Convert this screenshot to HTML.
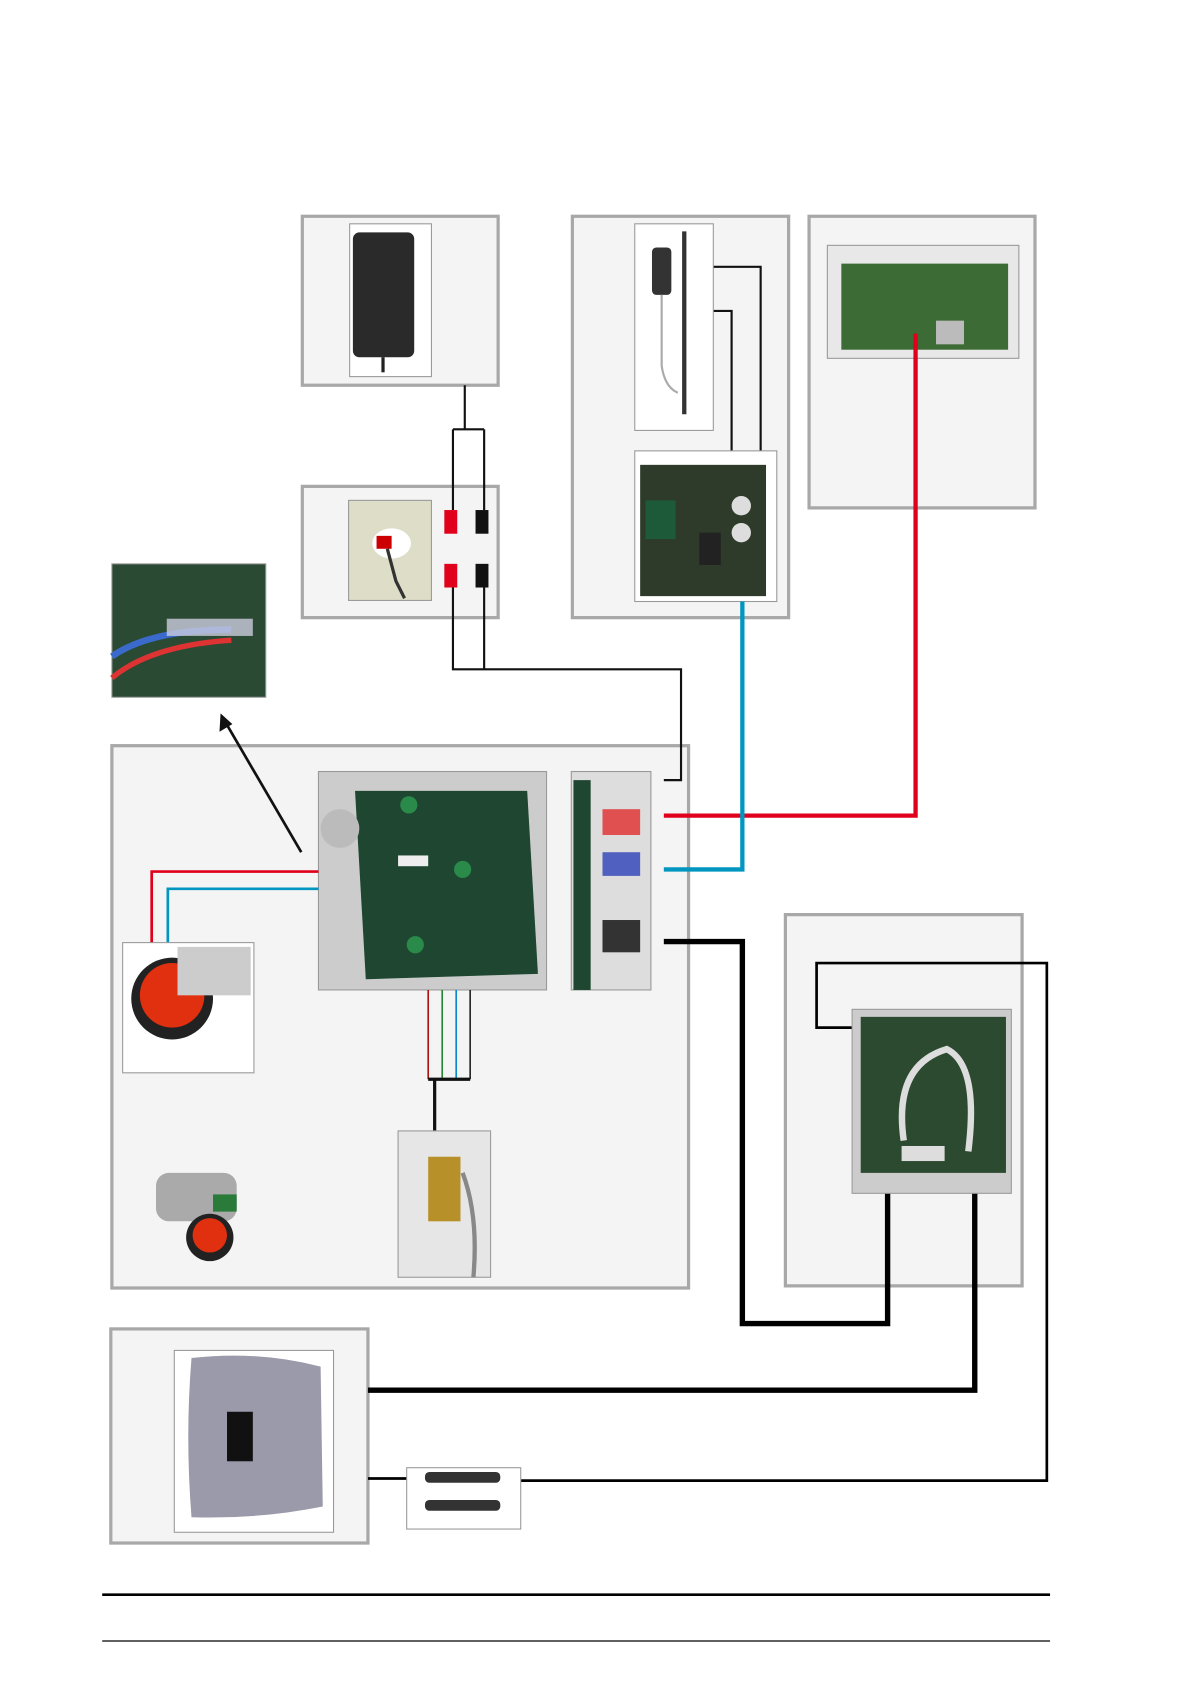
<!DOCTYPE html>
<html><head><meta charset="utf-8"><style>
html,body{margin:0;padding:0;background:#fff;}
svg{display:block;}
</style></head><body>
<svg width="1191" height="1684" viewBox="0 0 1107 1565" preserveAspectRatio="none" xmlns="http://www.w3.org/2000/svg">
<g fill="#f4f4f4" stroke="#a8a8a8" stroke-width="3">
<rect x="281" y="201" width="182" height="157"/>
<rect x="281" y="452" width="182" height="122"/>
<rect x="532" y="201" width="201" height="373"/>
<rect x="752" y="201" width="210" height="271"/>
<rect x="104" y="693" width="536" height="504"/>
<rect x="730" y="850" width="220" height="345"/>
<rect x="103" y="1235" width="239" height="199"/>
</g>
<!-- adapter -->
<rect x="325" y="208" width="76" height="142" fill="#fff" stroke="#999"/>
<rect x="328" y="216" width="57" height="116" rx="6" fill="#2a2a2a"/>
<line x1="356" y1="332" x2="356" y2="346" stroke="#222" stroke-width="3"/>
<!-- socket -->
<rect x="324" y="465" width="77" height="93" fill="#ddddc8" stroke="#999"/>
<ellipse cx="364" cy="505" rx="18" ry="14" fill="#fff"/>
<rect x="350" y="498" width="14" height="12" fill="#c00"/>
<path d="M360 510 L368 540 L376 556" stroke="#333" stroke-width="3" fill="none"/>
<rect x="413" y="474" width="12" height="22" fill="#e0001b"/>
<rect x="442" y="474" width="12" height="22" fill="#111"/>
<rect x="413" y="524" width="12" height="22" fill="#e0001b"/>
<rect x="442" y="524" width="12" height="22" fill="#111"/>
<g fill="none" stroke="#111" stroke-width="2">
<path d="M432 358 V399 M421 399 H450 M421 399 V474 M450 399 V474"/>
<path d="M421 546 V622 H633 V725 H617 M450 546 V622"/>
<path d="M663 248 H707 V419 M663 289 H680 V419"/>
</g>
<!-- sensor -->
<rect x="590" y="208" width="73" height="192" fill="#fff" stroke="#999"/>
<rect x="606" y="230" width="18" height="44" rx="4" fill="#333"/>
<line x1="636" y1="215" x2="636" y2="385" stroke="#333" stroke-width="4"/>
<path d="M615 274 V340 Q618 360 630 365" stroke="#aaa" stroke-width="2" fill="none"/>
<!-- pcb top -->
<rect x="590" y="419" width="132" height="140" fill="#fff" stroke="#999"/>
<rect x="595" y="432" width="117" height="122" fill="#2e3b2a"/>
<rect x="600" y="465" width="28" height="36" fill="#1d5a3a"/>
<circle cx="689" cy="470" r="9" fill="#ddd"/><circle cx="689" cy="495" r="9" fill="#ddd"/>
<rect x="650" y="495" width="20" height="30" fill="#222"/>
<!-- pcb right -->
<rect x="769" y="228" width="178" height="105" fill="#e8e8e8" stroke="#999"/>
<rect x="782" y="245" width="155" height="80" fill="#3d6b35"/>
<rect x="870" y="298" width="26" height="22" fill="#bbb"/>
<!-- red/blue lines -->
<path d="M851 310 V758 H617" stroke="#e0001b" stroke-width="4" fill="none"/>
<path d="M690 559 V808 H617" stroke="#0096c0" stroke-width="4" fill="none"/>
<!-- small pcb -->
<rect x="104" y="524" width="143" height="124" fill="#2b4a33" stroke="#999"/>
<path d="M104 610 Q140 585 215 585" stroke="#3a6acc" stroke-width="6" fill="none"/>
<path d="M104 630 Q140 600 215 595" stroke="#d33" stroke-width="5" fill="none"/>
<rect x="155" y="575" width="80" height="16" fill="#ccd" opacity="0.8"/>
<path d="M280 792 L210 672" stroke="#111" stroke-width="2.5"/>
<path d="M205 663 L204 680 L216 673 Z" fill="#111"/>
<!-- main pcb -->
<rect x="296" y="717" width="212" height="203" fill="#ccc" stroke="#999"/>
<path d="M330 735 L490 735 L500 905 L340 910 Z" fill="#1e4630"/>
<circle cx="316" cy="770" r="18" fill="#bbb"/>
<circle cx="380" cy="748" r="8" fill="#2a8a4a"/><circle cx="430" cy="808" r="8" fill="#2a8a4a"/><circle cx="386" cy="878" r="8" fill="#2a8a4a"/>
<rect x="370" y="795" width="28" height="10" fill="#eee"/>
<!-- connector image -->
<rect x="531" y="717" width="74" height="203" fill="#ddd" stroke="#999"/>
<rect x="533" y="725" width="16" height="195" fill="#1e4630"/>
<rect x="560" y="752" width="35" height="24" fill="#e05050"/>
<rect x="560" y="792" width="35" height="22" fill="#5060c0"/>
<rect x="560" y="855" width="35" height="30" fill="#333"/>
<!-- red/blue to wheel -->
<path d="M296 810 H141 V878" stroke="#e0001b" stroke-width="2.5" fill="none"/>
<path d="M296 826 H156 V878" stroke="#0096c0" stroke-width="2.5" fill="none"/>
<rect x="114" y="876" width="122" height="121" fill="#fff" stroke="#999"/>
<circle cx="160" cy="928" r="38" fill="#222"/><circle cx="160" cy="925" r="30" fill="#e03010"/>
<rect x="165" y="880" width="68" height="45" fill="#ccc"/>
<!-- small wheel -->
<rect x="145" y="1090" width="75" height="45" rx="12" fill="#aaa"/>
<circle cx="195" cy="1150" r="22" fill="#222"/><circle cx="195" cy="1148" r="16" fill="#e03010"/>
<rect x="198" y="1110" width="22" height="16" fill="#2a7a3a"/>
<!-- pcb bottom wires -->
<g fill="none" stroke-width="1.5">
<path d="M398 920 V1003" stroke="#aa1111"/><path d="M411 920 V1003" stroke="#228833"/>
<path d="M424 920 V1003" stroke="#0088cc"/><path d="M437 920 V1003" stroke="#222"/>
</g>
<path d="M398 1003 H437 M404 1003 V1051" stroke="#111" stroke-width="3" fill="none"/>
<rect x="370" y="1051" width="86" height="136" fill="#e6e6e6" stroke="#999"/>
<rect x="398" y="1075" width="30" height="60" fill="#b8902a"/>
<path d="M430 1090 Q445 1130 440 1187" stroke="#888" stroke-width="4" fill="none"/>
<!-- thick black -->
<path d="M617 875 H690 V1230 H825 V1090" stroke="#000" stroke-width="5" fill="none"/>
<path d="M342 1292 H906 V1090" stroke="#000" stroke-width="5" fill="none"/>
<path d="M792 955 H759 V895 H973 V1376 H484 M342 1374 H378" stroke="#000" stroke-width="2.5" fill="none"/>
<!-- right pcb -->
<rect x="792" y="938" width="148" height="171" fill="#ccc" stroke="#999"/>
<rect x="800" y="945" width="135" height="145" fill="#2b4a30"/>
<path d="M840 1060 Q830 990 880 975 Q910 990 900 1070" stroke="#ddd" stroke-width="6" fill="none"/>
<rect x="838" y="1065" width="40" height="14" fill="#ddd"/>
<!-- bottom device -->
<rect x="162" y="1255" width="148" height="169" fill="#fff" stroke="#999"/>
<path d="M178 1262 Q240 1255 298 1270 L300 1400 Q240 1412 178 1410 Q172 1335 178 1262 Z" fill="#9a9aaa"/>
<rect x="211" y="1312" width="24" height="46" fill="#111"/>
<rect x="378" y="1364" width="106" height="57" fill="#fff" stroke="#999"/>
<rect x="395" y="1368" width="70" height="10" rx="4" fill="#333"/>
<rect x="395" y="1394" width="70" height="10" rx="4" fill="#333"/>
<!-- footer lines -->
<line x1="95" y1="1482" x2="976" y2="1482" stroke="#000" stroke-width="2.5"/>
<line x1="95" y1="1525" x2="976" y2="1525" stroke="#000" stroke-width="1.2"/>
</svg>
</body></html>
